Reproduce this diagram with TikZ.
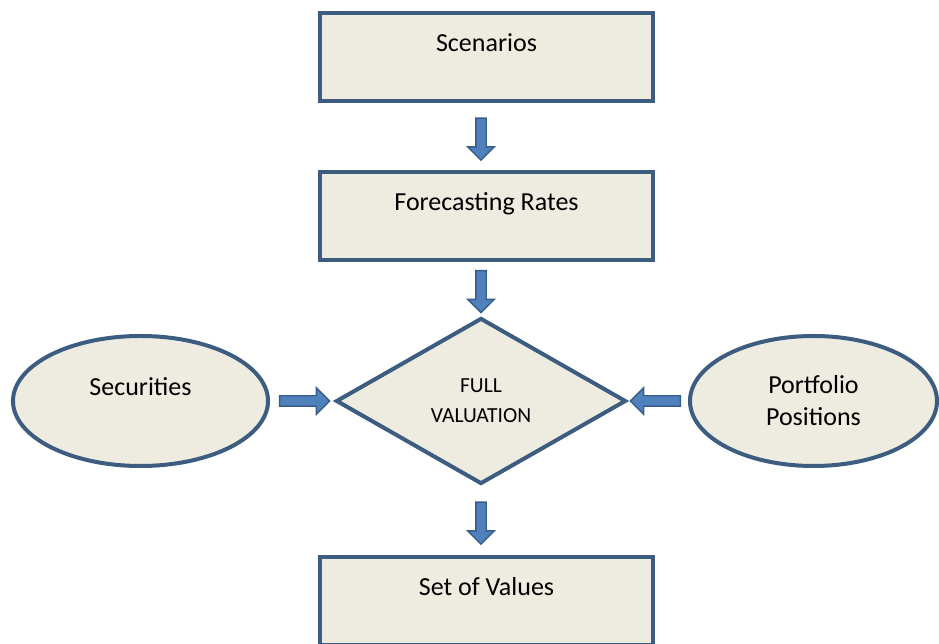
\documentclass[tikz,border=0pt]{standalone}
\usepackage{fontspec}
\setmainfont{Carlito}
\usetikzlibrary{shapes.geometric,shapes.arrows}

\definecolor{boxfill}{RGB}{238,236,225}
\definecolor{boxline}{RGB}{60,92,128}
\definecolor{arrowfill}{RGB}{79,129,189}
\definecolor{arrowline}{RGB}{56,93,138}

\tikzset{
  stage/.style={draw=boxline, fill=boxfill, line width=4bp,
    minimum width=333bp, minimum height=88bp,
    text height=18bp, text depth=28bp,
    font=\fontsize{26bp}{32bp}\selectfont},
  source/.style={ellipse, draw=boxline, fill=boxfill, line width=4bp,
    minimum width=255bp, minimum height=130bp, align=center,
    font=\fontsize{26bp}{32bp}\selectfont},
  decision/.style={diamond, aspect=1.75, draw=boxline, fill=boxfill,
    line width=4bp, minimum width=290bp, minimum height=166bp,
    align=center, font=\fontsize{21.5bp}{30bp}\selectfont},
  flow/.style={single arrow, draw=arrowline, fill=arrowfill, line width=1.4bp,
    minimum height=42bp, inner xsep=0pt, inner ysep=4.5bp,
    single arrow head extend=8bp, sloped, allow upside down},
  sideflow/.style={flow, minimum height=50bp}
}

\begin{document}
\begin{tikzpicture}[x=1bp,y=1bp]
  \useasboundingbox (0,0) rectangle (939,644);

  \node[stage] (scen) at (486.5,587) {Scenarios};
  \node[stage] (fore) at (486.5,428) {Forecasting Rates};
  \node[decision] (full) at (481,243) {FULL\\VALUATION};
  \node[source, text height=18bp, text depth=28bp] (sec) at (140.5,243) {Securities};
  \node[source, minimum width=247bp] (port) at (813.5,243) {Portfolio\\Positions};
  \node[stage] (vals) at (486.5,43) {Set of Values};

  % block arrows sit in the middle of each gap, in line with the diamond
  \path (full.north |- scen.south) -- node[flow] {} (full.north |- fore.north);
  \path (full.north |- fore.south) -- node[flow] {} (full.north);
  \path (full.south) -- node[flow] {} (full.south |- vals.north);
  \path (sec.east) -- node[sideflow] {} (full.west);
  \path (port.west) -- node[sideflow] {} (full.east);
\end{tikzpicture}
\end{document}
